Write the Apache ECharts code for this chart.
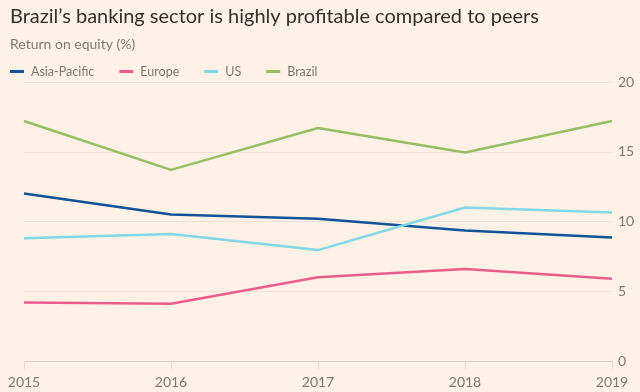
<!DOCTYPE html>
<html>
<head>
<meta charset="utf-8">
<script src="https://cdn.jsdelivr.net/npm/echarts@6/dist/echarts.min.js"></script>
<style>
html,body{margin:0;padding:0;background:#FFF1E5;}
#chart{width:640px;height:392px;}
</style>
</head>
<body>
<div id="chart"></div>
<script>
const years = ['2015', '2016', '2017', '2018', '2019'];
const asiaPacific = [12.0, 10.5, 10.2, 9.35, 8.85];
const europe = [4.2, 4.1, 6.0, 6.6, 5.9];
const us = [8.8, 9.1, 7.95, 11.0, 10.65];
const brazil = [17.2, 13.7, 16.7, 14.95, 17.2];
const yTicks = [0, 5, 10, 15, 20];

const FONT = 'Lato';
const chart = echarts.init(document.getElementById('chart'), null, {renderer: 'canvas'});
function mk(name, data, color) {
  return {
    name: name, type: 'line', data: data, symbol: 'none',
    lineStyle: {color: color, width: 2.5}, itemStyle: {color: color},
    emphasis: {disabled: true}
  };
}
chart.setOption({
  backgroundColor: '#FFF1E5',
  animation: false,
  title: [
    {text: 'Brazil\u2019s banking sector is highly profitable compared to peers', left: 5, top: 2,
     textStyle: {fontFamily: FONT, fontSize: 20, fontWeight: 'normal', color: '#33302E'}},
    {text: 'Return on equity (%)', left: 5, top: 32,
     textStyle: {fontFamily: FONT, fontSize: 14, fontWeight: 'normal', color: '#807973'}}
  ],
  legend: {
    left: 5, top: 60, itemWidth: 14, itemHeight: 3, itemGap: 25, icon: 'rect',
    textStyle: {fontFamily: FONT, fontSize: 12.5, color: '#807973', padding: [0, 0, 0, 2]},
    data: ['Asia-Pacific', 'Europe', 'US', 'Brazil']
  },
  grid: {left: 24, right: 28, top: 82, bottom: 31, containLabel: false},
  xAxis: {
    type: 'category', data: years, boundaryGap: false,
    axisLine: {lineStyle: {color: '#D9CEC4', width: 1}},
    axisTick: {show: true, alignWithLabel: true, length: 8, lineStyle: {color: '#E6DAD0'}},
    axisLabel: {fontFamily: FONT, fontSize: 14, color: '#807973', margin: 14}
  },
  yAxis: {
    type: 'value', position: 'right', min: yTicks[0], max: yTicks[yTicks.length - 1], interval: 5,
    axisLine: {show: false}, axisTick: {show: false},
    axisLabel: {fontFamily: FONT, fontSize: 14, color: '#807973', margin: 6},
    splitLine: {lineStyle: {color: '#EDE1D6', width: 1}}
  },
  series: [
    mk('Asia-Pacific', asiaPacific, '#0F5499'),
    mk('Europe', europe, '#E95D8C'),
    mk('US', us, '#7FD8E4'),
    mk('Brazil', brazil, '#96BF65')
  ]
});
</script>
</body>
</html>
